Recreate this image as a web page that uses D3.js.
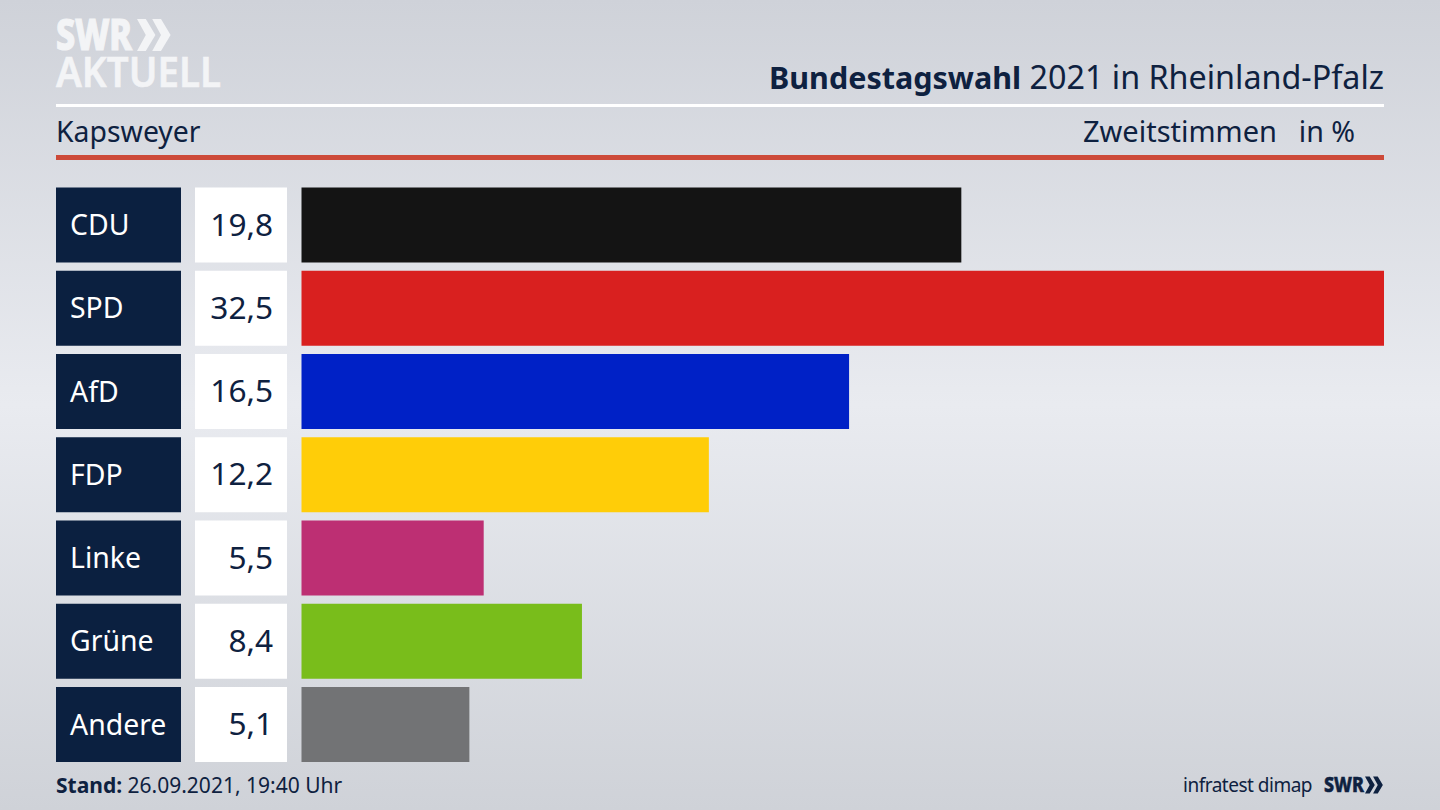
<!DOCTYPE html>
<html><head><meta charset="utf-8">
<script src="https://cdn.jsdelivr.net/npm/d3@7"></script>
<style>html,body{margin:0;padding:0;background:#e0e2e8;overflow:hidden}svg{display:block}text{font-family:"Noto Sans",sans-serif}</style>
</head><body><svg id="c" width="1440" height="810"></svg>
<script>
const parties=["CDU","SPD","AfD","FDP","Linke","Grüne","Andere"];
const values=[19.81,32.5,16.44,12.23,5.47,8.42,5.04];
const barColors=["#141414","#d9201f","#0021c6","#ffcd08","#bd2f73","#79bd1b","#727375"];
const labels=["19,8","32,5","16,5","12,2","5,5","8,4","5,1"];
const navy="#0b2040", ink="#0e2140", logo="#f3f4f6";
const svg=d3.select("#c");
const defs=svg.append("defs");
const g=defs.append("linearGradient").attr("id","bg").attr("x1",0).attr("x2",0).attr("y1",0).attr("y2",1);
[[0,"#cfd2d9"],[.5,"#e9ebf0"],[1,"#cfd2d8"]].forEach(d=>g.append("stop").attr("offset",d[0]).attr("stop-color",d[1]));
svg.append("rect").attr("width",1440).attr("height",810).attr("fill","url(#bg)");

const x=d3.scaleLinear().domain([0,32.5]).range([301.5,1384]);
const step=83.25,h=75;
const y=d3.scalePoint().domain(parties).range([187.5,187.5+6*step]);

const rows=svg.append("g").selectAll("g").data(parties).join("g");
rows.append("rect").attr("x",56).attr("width",125).attr("y",y).attr("height",h).attr("fill",navy);
rows.append("rect").attr("x",195).attr("width",92).attr("y",y).attr("height",h).attr("fill","#fff");
rows.append("rect").attr("x",x(0)).attr("y",y).attr("height",h)
  .attr("width",(d,i)=>x(values[i])-x(0)).attr("fill",(d,i)=>barColors[i]);
rows.append("text").attr("x",70).attr("y",d=>y(d)+47.5).attr("font-size",28.4).attr("fill","#fff").text(d=>d);
rows.append("text").attr("x",273).attr("y",d=>y(d)+48).attr("font-size",31.6).attr("text-anchor","end").attr("fill",ink).text((d,i)=>labels[i]);

// header
svg.append("rect").attr("x",56).attr("y",104).attr("width",1328).attr("height",3).attr("fill","#fff");
svg.append("rect").attr("x",56).attr("y",155).attr("width",1328).attr("height",5).attr("fill","#cd4a39");
const title=svg.append("text").attr("x",1384).attr("y",89).attr("text-anchor","end").attr("fill",ink);
title.append("tspan").attr("font-weight",700).attr("font-size",30.5).text("Bundestagswahl");
title.append("tspan").attr("font-size",32.3).text(" 2021 in Rheinland-Pfalz");
svg.append("text").attr("x",56).attr("y",142).attr("font-size",28.4).attr("fill",ink).text("Kapsweyer");
svg.append("text").attr("x",1277).attr("y",142).attr("text-anchor","end").attr("font-size",29).attr("fill",ink).text("Zweitstimmen");
svg.append("text").attr("x",1355).attr("y",142).attr("text-anchor","end").attr("font-size",28.6).attr("fill",ink).text("in %");

// logo
const chev=(x0,y0,s,fill)=>{
  const line=d3.line();
  [0,1].forEach(i=>{const o=x0+i*s*.95;svg.append("path").attr("fill",fill).attr("d",line([
    [o,y0],[o+s*.55,y0],[o+s*1.15,y0+s],[o+s*.55,y0+2*s],[o,y0+2*s],[o+s*.55,y0+s]
  ])+"Z");});
};
svg.append("text").attr("x",56).attr("y",50).attr("font-size",42).attr("font-weight",800).attr("fill",logo).attr("stroke",logo).attr("stroke-width",1.2).attr("textLength",76).attr("lengthAdjust","spacingAndGlyphs").text("SWR");
chev(137,19,16,logo);
svg.append("text").attr("x",56).attr("y",87).attr("font-size",42).attr("font-weight",600).attr("fill",logo).attr("stroke",logo).attr("stroke-width",.6).attr("textLength",165).attr("lengthAdjust","spacingAndGlyphs").text("AKTUELL");

// footer
const st=svg.append("text").attr("x",56).attr("y",793).attr("fill",ink).attr("font-size",21);
st.append("tspan").attr("font-weight",700).text("Stand:");
st.append("tspan").text(" 26.09.2021, 19:40 Uhr");
svg.append("text").attr("x",1312).attr("y",792).attr("text-anchor","end").attr("font-size",19).attr("letter-spacing",-0.5).attr("fill",ink).text("infratest dimap");
svg.append("text").attr("x",1324).attr("y",792).attr("font-size",21).attr("font-weight",800).attr("fill",ink).attr("stroke",ink).attr("stroke-width",.5).attr("textLength",40).attr("lengthAdjust","spacingAndGlyphs").text("SWR");
chev(1365,776.5,8.5,ink);
</script></body></html>
